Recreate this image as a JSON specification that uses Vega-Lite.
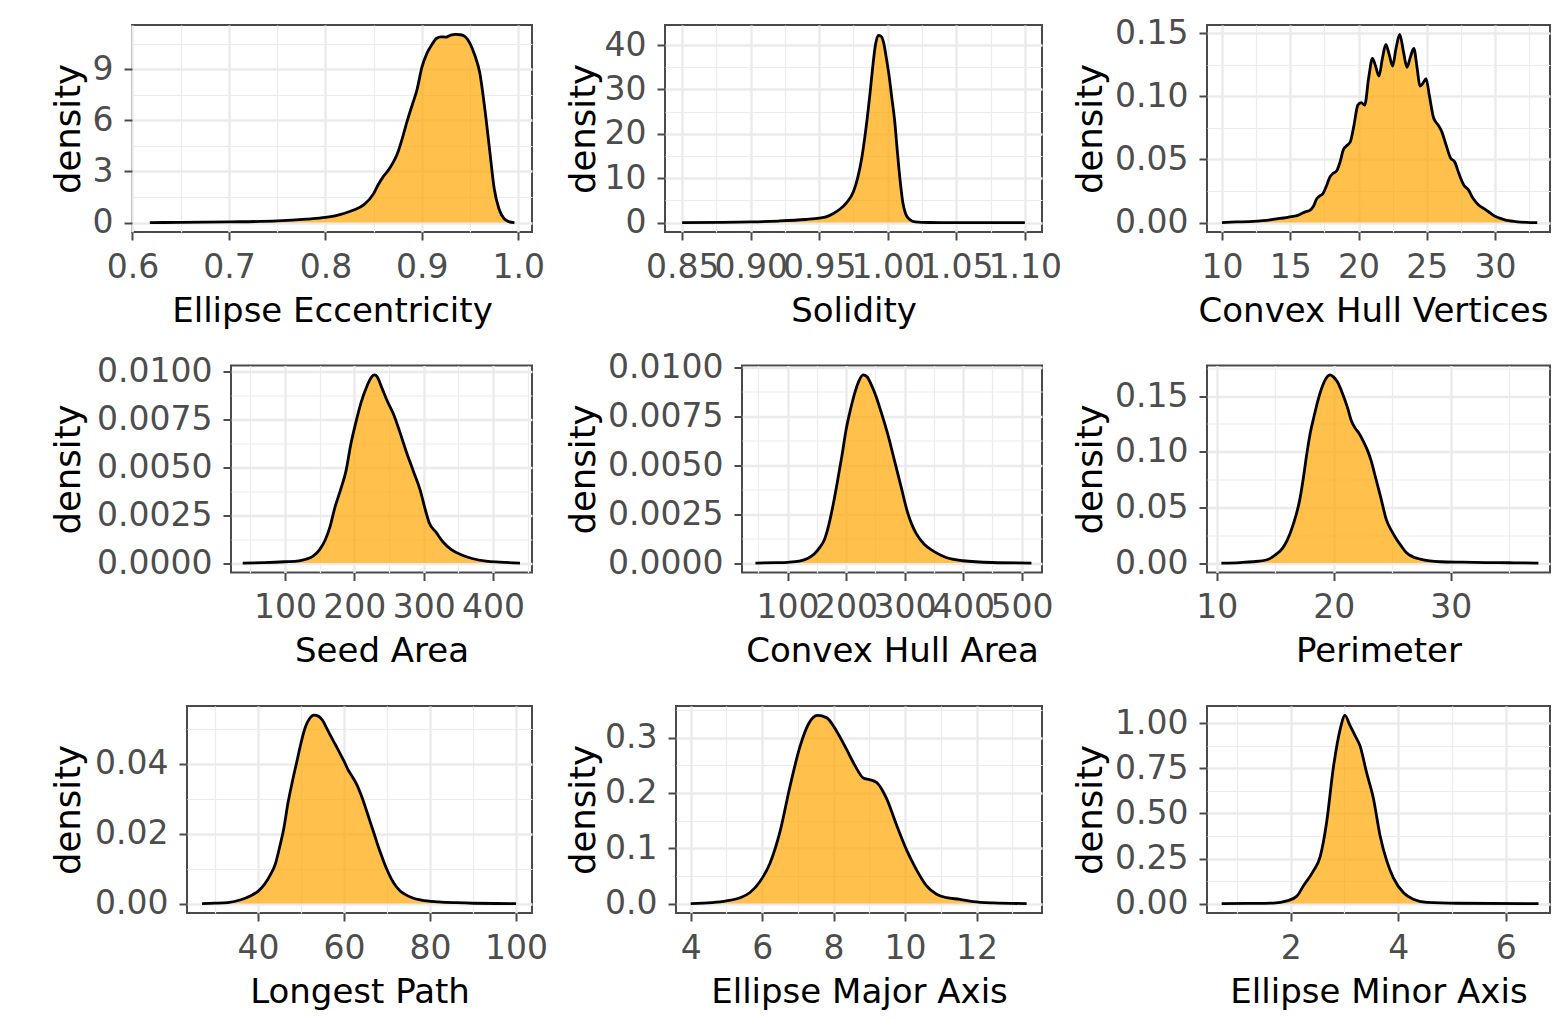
{
  "$schema": "https://vega.github.io/schema/vega-lite/v6.json",
  "background": "white",
  "padding": {"top": 1, "left": 0, "right": 0, "bottom": 0},
  "datasets": {
    "p1": [{"x":0.618,"d":0},{"x":0.65,"d":0.01},{"x":0.7,"d":0.04},{"x":0.75,"d":0.1},{"x":0.78,"d":0.2},{"x":0.8,"d":0.3},{"x":0.81,"d":0.4},{"x":0.82,"d":0.55},{"x":0.83,"d":0.75},{"x":0.84,"d":1.05},{"x":0.85,"d":1.7},{"x":0.855,"d":2.25},{"x":0.86,"d":2.7},{"x":0.865,"d":3.05},{"x":0.87,"d":3.5},{"x":0.875,"d":4.1},{"x":0.88,"d":5.0},{"x":0.885,"d":6.0},{"x":0.89,"d":6.9},{"x":0.895,"d":7.8},{"x":0.9,"d":9.1},{"x":0.905,"d":9.9},{"x":0.91,"d":10.4},{"x":0.915,"d":10.8},{"x":0.92,"d":10.9},{"x":0.925,"d":10.88},{"x":0.93,"d":11.0},{"x":0.935,"d":11.04},{"x":0.94,"d":11.02},{"x":0.945,"d":10.9},{"x":0.95,"d":10.5},{"x":0.955,"d":9.8},{"x":0.96,"d":8.8},{"x":0.965,"d":6.8},{"x":0.97,"d":4.4},{"x":0.975,"d":2.0},{"x":0.98,"d":0.8},{"x":0.985,"d":0.25},{"x":0.99,"d":0.06},{"x":0.996,"d":0}],
    "p2": [{"x":0.85,"d":0},{"x":0.9,"d":0.15},{"x":0.92,"d":0.35},{"x":0.94,"d":0.7},{"x":0.95,"d":1.0},{"x":0.955,"d":1.3},{"x":0.96,"d":2.0},{"x":0.965,"d":3.0},{"x":0.97,"d":4.5},{"x":0.975,"d":7.0},{"x":0.978,"d":10.0},{"x":0.981,"d":14.5},{"x":0.984,"d":21},{"x":0.987,"d":29},{"x":0.989,"d":35},{"x":0.991,"d":40},{"x":0.993,"d":42.2},{"x":0.995,"d":42},{"x":0.997,"d":40.5},{"x":0.999,"d":37},{"x":1.001,"d":33},{"x":1.003,"d":28},{"x":1.005,"d":23},{"x":1.007,"d":16},{"x":1.009,"d":9.5},{"x":1.011,"d":4.5},{"x":1.013,"d":2.0},{"x":1.016,"d":0.7},{"x":1.02,"d":0.15},{"x":1.03,"d":0.02},{"x":1.05,"d":0},{"x":1.1,"d":0}],
    "p3": [{"x":10,"d":0},{"x":11,"d":0.0005},{"x":12,"d":0.0008},{"x":13,"d":0.0015},{"x":14,"d":0.003},{"x":14.7,"d":0.004},{"x":15.2,"d":0.005},{"x":15.5,"d":0.0055},{"x":15.8,"d":0.007},{"x":16.1,"d":0.0085},{"x":16.4,"d":0.0095},{"x":16.7,"d":0.013},{"x":16.95,"d":0.019},{"x":17.15,"d":0.021},{"x":17.4,"d":0.023},{"x":17.65,"d":0.029},{"x":17.9,"d":0.036},{"x":18.15,"d":0.039},{"x":18.4,"d":0.041},{"x":18.65,"d":0.048},{"x":18.9,"d":0.058},{"x":19.15,"d":0.061},{"x":19.4,"d":0.064},{"x":19.65,"d":0.076},{"x":19.95,"d":0.093},{"x":20.2,"d":0.095},{"x":20.45,"d":0.093},{"x":20.75,"d":0.115},{"x":21.02,"d":0.13},{"x":21.25,"d":0.124},{"x":21.5,"d":0.116},{"x":21.75,"d":0.13},{"x":22.0,"d":0.141},{"x":22.25,"d":0.133},{"x":22.5,"d":0.124},{"x":22.75,"d":0.138},{"x":23.02,"d":0.149},{"x":23.3,"d":0.135},{"x":23.55,"d":0.123},{"x":23.8,"d":0.131},{"x":24.05,"d":0.138},{"x":24.3,"d":0.122},{"x":24.5,"d":0.108},{"x":24.7,"d":0.11},{"x":24.95,"d":0.114},{"x":25.2,"d":0.1},{"x":25.5,"d":0.083},{"x":25.85,"d":0.077},{"x":26.1,"d":0.072},{"x":26.4,"d":0.062},{"x":26.75,"d":0.051},{"x":27.05,"d":0.048},{"x":27.35,"d":0.039},{"x":27.7,"d":0.03},{"x":28.05,"d":0.026},{"x":28.4,"d":0.019},{"x":28.8,"d":0.014},{"x":29.2,"d":0.011},{"x":29.6,"d":0.008},{"x":30.0,"d":0.005},{"x":30.5,"d":0.003},{"x":31.0,"d":0.0015},{"x":31.5,"d":0.0008},{"x":32.3,"d":0.0002},{"x":33.1,"d":0}],
    "p4": [{"x":39,"d":0},{"x":70,"d":0.00002},{"x":100,"d":0.00007},{"x":120,"d":0.00012},{"x":130,"d":0.0002},{"x":140,"d":0.00035},{"x":150,"d":0.0007},{"x":158,"d":0.0012},{"x":165,"d":0.0019},{"x":172,"d":0.0029},{"x":180,"d":0.0038},{"x":188,"d":0.0048},{"x":195,"d":0.0062},{"x":202,"d":0.0073},{"x":210,"d":0.0084},{"x":218,"d":0.0092},{"x":225,"d":0.0097},{"x":229,"d":0.0098},{"x":233,"d":0.0097},{"x":240,"d":0.0091},{"x":248,"d":0.0084},{"x":256,"d":0.0078},{"x":265,"d":0.0069},{"x":275,"d":0.0058},{"x":285,"d":0.0048},{"x":295,"d":0.0038},{"x":303,"d":0.0027},{"x":308,"d":0.0021},{"x":318,"d":0.0016},{"x":328,"d":0.0011},{"x":340,"d":0.0007},{"x":355,"d":0.00042},{"x":370,"d":0.00024},{"x":390,"d":0.0001},{"x":410,"d":0.00005},{"x":439,"d":0}],
    "p5": [{"x":45,"d":0},{"x":80,"d":0.00002},{"x":100,"d":0.00004},{"x":120,"d":0.0001},{"x":135,"d":0.00025},{"x":145,"d":0.00045},{"x":155,"d":0.0008},{"x":163,"d":0.0012},{"x":170,"d":0.0019},{"x":178,"d":0.003},{"x":186,"d":0.0043},{"x":193,"d":0.0055},{"x":200,"d":0.0068},{"x":208,"d":0.0079},{"x":215,"d":0.0087},{"x":222,"d":0.0093},{"x":229,"d":0.0096},{"x":236,"d":0.0095},{"x":243,"d":0.0091},{"x":250,"d":0.0086},{"x":260,"d":0.0077},{"x":271,"d":0.0066},{"x":283,"d":0.0052},{"x":294,"d":0.0039},{"x":305,"d":0.0026},{"x":312,"d":0.002},{"x":320,"d":0.0015},{"x":334,"d":0.00095},{"x":350,"d":0.0006},{"x":370,"d":0.0003},{"x":400,"d":0.00012},{"x":450,"d":0.00003},{"x":517,"d":0}],
    "p6": [{"x":10.4,"d":0},{"x":12,"d":0.0005},{"x":13.1,"d":0.0012},{"x":14.3,"d":0.003},{"x":15.1,"d":0.008},{"x":15.6,"d":0.013},{"x":16,"d":0.02},{"x":16.55,"d":0.035},{"x":17.1,"d":0.057},{"x":17.4,"d":0.076},{"x":17.7,"d":0.098},{"x":18,"d":0.117},{"x":18.3,"d":0.131},{"x":18.65,"d":0.146},{"x":19,"d":0.158},{"x":19.35,"d":0.166},{"x":19.7,"d":0.169},{"x":20.0,"d":0.167},{"x":20.3,"d":0.163},{"x":20.8,"d":0.151},{"x":21.2,"d":0.139},{"x":21.5,"d":0.128},{"x":21.85,"d":0.121},{"x":22.2,"d":0.116},{"x":22.55,"d":0.109},{"x":22.9,"d":0.101},{"x":23.2,"d":0.092},{"x":23.5,"d":0.08},{"x":24.0,"d":0.06},{"x":24.5,"d":0.039},{"x":25,"d":0.028},{"x":25.4,"d":0.021},{"x":25.8,"d":0.015},{"x":26.2,"d":0.0095},{"x":26.8,"d":0.0055},{"x":27.4,"d":0.0036},{"x":28.2,"d":0.002},{"x":29.1,"d":0.0012},{"x":31,"d":0.0008},{"x":33,"d":0.0005},{"x":35,"d":0.0003},{"x":37.5,"d":0}],
    "p7": [{"x":27,"d":0},{"x":30,"d":0.0001},{"x":33,"d":0.0003},{"x":36,"d":0.0011},{"x":38.2,"d":0.0022},{"x":40,"d":0.0035},{"x":41.5,"d":0.0055},{"x":43,"d":0.0085},{"x":44,"d":0.0112},{"x":45,"d":0.016},{"x":46,"d":0.0215},{"x":47,"d":0.029},{"x":48,"d":0.035},{"x":49,"d":0.0405},{"x":50,"d":0.046},{"x":51,"d":0.0505},{"x":52,"d":0.053},{"x":53,"d":0.054},{"x":54,"d":0.0537},{"x":55,"d":0.0525},{"x":56,"d":0.0502},{"x":57,"d":0.0478},{"x":58,"d":0.0455},{"x":59,"d":0.0432},{"x":60,"d":0.0408},{"x":61,"d":0.0382},{"x":62,"d":0.0362},{"x":63,"d":0.034},{"x":64,"d":0.031},{"x":65,"d":0.0275},{"x":66,"d":0.0237},{"x":67,"d":0.02},{"x":68,"d":0.0162},{"x":69,"d":0.0128},{"x":70,"d":0.0097},{"x":71,"d":0.0071},{"x":72,"d":0.0051},{"x":73,"d":0.0037},{"x":74,"d":0.0028},{"x":76,"d":0.0016},{"x":78,"d":0.001},{"x":82,"d":0.0005},{"x":86,"d":0.00025},{"x":90,"d":0.0001},{"x":100,"d":0}],
    "p8": [{"x":4,"d":0},{"x":4.6,"d":0.0018},{"x":5.0,"d":0.005},{"x":5.4,"d":0.011},{"x":5.66,"d":0.02},{"x":5.94,"d":0.04},{"x":6.22,"d":0.073},{"x":6.5,"d":0.13},{"x":6.78,"d":0.212},{"x":7.06,"d":0.284},{"x":7.3,"d":0.325},{"x":7.55,"d":0.34},{"x":7.8,"d":0.336},{"x":8.08,"d":0.312},{"x":8.36,"d":0.279},{"x":8.6,"d":0.249},{"x":8.83,"d":0.227},{"x":9.0,"d":0.224},{"x":9.2,"d":0.219},{"x":9.48,"d":0.19},{"x":9.76,"d":0.142},{"x":10.04,"d":0.097},{"x":10.32,"d":0.061},{"x":10.6,"d":0.032},{"x":10.88,"d":0.017},{"x":11.16,"d":0.0107},{"x":11.53,"d":0.0078},{"x":11.9,"d":0.0036},{"x":12.47,"d":0.0012},{"x":13.4,"d":0}],
    "p9": [{"x":0.716,"d":0},{"x":1.2,"d":0.001},{"x":1.68,"d":0.003},{"x":1.93,"d":0.015},{"x":2.11,"d":0.04},{"x":2.24,"d":0.1},{"x":2.42,"d":0.18},{"x":2.55,"d":0.262},{"x":2.67,"d":0.454},{"x":2.79,"d":0.747},{"x":2.92,"d":0.967},{"x":3.01,"d":1.044},{"x":3.1,"d":0.99},{"x":3.2,"d":0.93},{"x":3.29,"d":0.875},{"x":3.41,"d":0.729},{"x":3.54,"d":0.582},{"x":3.66,"d":0.381},{"x":3.79,"d":0.234},{"x":3.91,"d":0.143},{"x":4.1,"d":0.06},{"x":4.28,"d":0.024},{"x":4.53,"d":0.007},{"x":5.09,"d":0.002},{"x":6.61,"d":0}]
  },
  "spacing": 12.5,
  "vconcat": [
    {"spacing": 0, "bounds": "flush", "hconcat": [
      {"width": 132, "height": 207, "title": {"text": " ", "fontSize": 20, "offset": 4}, "data": {"values": []}, "mark": "rect", "encoding": {}, "view": {"stroke": null}},
      {"width": 400, "height": 207, "data": {"name": "p1"},
       "mark": {"type": "area", "interpolate": "monotone", "color": "#FFA500", "fillOpacity": 0.7, "line": {"color": "black", "strokeWidth": 2.8}},
       "encoding": {
         "x": {"field": "x", "type": "quantitative", "scale": {"domain": [0.5995, 1.0142], "nice": false, "zero": false},
               "axis": {"title": "Ellipse Eccentricity", "titleY": 62, "values": [0.6,0.65,0.7,0.75,0.8,0.85,0.9,0.95,1.0], "format": ".1f",
                        "labelExpr": "indexof([0.6,0.7,0.8,0.9,1.0], datum.value) >= 0 ? datum.label : ''",
                        "tickOpacity": {"condition": {"test": "indexof([0.6,0.7,0.8,0.9,1.0], datum.value) >= 0", "value": 1}, "value": 0},
                        "gridWidth": {"condition": {"test": "indexof([0.6,0.7,0.8,0.9,1.0], datum.value) >= 0", "value": 2.5}, "value": 1.2}}},
         "y": {"field": "d", "type": "quantitative", "scale": {"domain": [-0.552, 11.592], "nice": false, "zero": false},
               "axis": {"title": "density", "titleX": -46, "values": [0,1.5,3,4.5,6,7.5,9,10.5], "format": "d",
                        "labelExpr": "indexof([0,3,6,9], datum.value) >= 0 ? datum.label : ''",
                        "tickOpacity": {"condition": {"test": "indexof([0,3,6,9], datum.value) >= 0", "value": 1}, "value": 0},
                        "gridWidth": {"condition": {"test": "indexof([0,3,6,9], datum.value) >= 0", "value": 2.5}, "value": 1.2}}},
         "y2": {"datum": 0}
       }},
      {"width": 133, "height": 207, "data": {"values": []}, "mark": "rect", "encoding": {}, "view": {"stroke": null}},
      {"width": 377, "height": 207, "data": {"name": "p2"},
       "mark": {"type": "area", "interpolate": "monotone", "color": "#FFA500", "fillOpacity": 0.7, "line": {"color": "black", "strokeWidth": 2.8}},
       "encoding": {
         "x": {"field": "x", "type": "quantitative", "scale": {"domain": [0.8375, 1.1125], "nice": false, "zero": false},
               "axis": {"title": "Solidity", "titleY": 62, "values": [0.85,0.875,0.9,0.925,0.95,0.975,1.0,1.025,1.05,1.075,1.1], "format": ".2f",
                        "labelExpr": "indexof([0.85,0.9,0.95,1.0,1.05,1.1], datum.value) >= 0 ? datum.label : ''",
                        "tickOpacity": {"condition": {"test": "indexof([0.85,0.9,0.95,1.0,1.05,1.1], datum.value) >= 0", "value": 1}, "value": 0},
                        "gridWidth": {"condition": {"test": "indexof([0.85,0.9,0.95,1.0,1.05,1.1], datum.value) >= 0", "value": 2.5}, "value": 1.2}}},
         "y": {"field": "d", "type": "quantitative", "scale": {"domain": [-2.12, 44.52], "nice": false, "zero": false},
               "axis": {"title": "density", "titleX": -64, "values": [0,5,10,15,20,25,30,35,40], "format": "d",
                        "labelExpr": "indexof([0,10,20,30,40], datum.value) >= 0 ? datum.label : ''",
                        "tickOpacity": {"condition": {"test": "indexof([0,10,20,30,40], datum.value) >= 0", "value": 1}, "value": 0},
                        "gridWidth": {"condition": {"test": "indexof([0,10,20,30,40], datum.value) >= 0", "value": 2.5}, "value": 1.2}}},
         "y2": {"datum": 0}
       }},
      {"width": 165, "height": 207, "data": {"values": []}, "mark": "rect", "encoding": {}, "view": {"stroke": null}},
      {"width": 343, "height": 207, "data": {"name": "p3"},
       "mark": {"type": "area", "interpolate": "monotone", "color": "#FFA500", "fillOpacity": 0.7, "line": {"color": "black", "strokeWidth": 2.8}},
       "encoding": {
         "x": {"field": "x", "type": "quantitative", "scale": {"domain": [8.9, 34.03], "nice": false, "zero": false},
               "axis": {"title": "Convex Hull Vertices", "titleY": 62, "titleX": 166, "values": [10,12.5,15,17.5,20,22.5,25,27.5,30,32.5], "format": "d",
                        "labelExpr": "indexof([10,15,20,25,30], datum.value) >= 0 ? datum.label : ''",
                        "tickOpacity": {"condition": {"test": "indexof([10,15,20,25,30], datum.value) >= 0", "value": 1}, "value": 0},
                        "gridWidth": {"condition": {"test": "indexof([10,15,20,25,30], datum.value) >= 0", "value": 2.5}, "value": 1.2}}},
         "y": {"field": "d", "type": "quantitative", "scale": {"domain": [-0.00745, 0.15645], "nice": false, "zero": false},
               "axis": {"title": "density", "titleX": -99, "values": [0,0.025,0.05,0.075,0.1,0.125,0.15], "format": ".2f",
                        "labelExpr": "indexof([0,0.05,0.1,0.15], datum.value) >= 0 ? datum.label : ''",
                        "tickOpacity": {"condition": {"test": "indexof([0,0.05,0.1,0.15], datum.value) >= 0", "value": 1}, "value": 0},
                        "gridWidth": {"condition": {"test": "indexof([0,0.05,0.1,0.15], datum.value) >= 0", "value": 2.5}, "value": 1.2}}},
         "y2": {"datum": 0}
       }}
    ]},
    {"spacing": 0, "bounds": "flush", "hconcat": [
      {"width": 231, "height": 207, "title": {"text": " ", "fontSize": 20, "offset": 4}, "data": {"values": []}, "mark": "rect", "encoding": {}, "view": {"stroke": null}},
      {"width": 301, "height": 207, "data": {"name": "p4"},
       "mark": {"type": "area", "interpolate": "monotone", "color": "#FFA500", "fillOpacity": 0.7, "line": {"color": "black", "strokeWidth": 2.8}},
       "encoding": {
         "x": {"field": "x", "type": "quantitative", "scale": {"domain": [22.1, 456.3], "nice": false, "zero": false},
               "axis": {"title": "Seed Area", "titleY": 62, "values": [50,100,150,200,250,300,350,400,450], "format": "d",
                        "labelExpr": "indexof([100,200,300,400], datum.value) >= 0 ? datum.label : ''",
                        "tickOpacity": {"condition": {"test": "indexof([100,200,300,400], datum.value) >= 0", "value": 1}, "value": 0},
                        "gridWidth": {"condition": {"test": "indexof([100,200,300,400], datum.value) >= 0", "value": 2.5}, "value": 1.2}}},
         "y": {"field": "d", "type": "quantitative", "scale": {"domain": [-0.00049, 0.01029], "nice": false, "zero": false},
               "axis": {"title": "density", "titleX": -145, "values": [0,0.00125,0.0025,0.00375,0.005,0.00625,0.0075,0.00875,0.01], "format": ".4f",
                        "labelExpr": "indexof([0,0.0025,0.005,0.0075,0.01], datum.value) >= 0 ? datum.label : ''",
                        "tickOpacity": {"condition": {"test": "indexof([0,0.0025,0.005,0.0075,0.01], datum.value) >= 0", "value": 1}, "value": 0},
                        "gridWidth": {"condition": {"test": "indexof([0,0.0025,0.005,0.0075,0.01], datum.value) >= 0", "value": 2.5}, "value": 1.2}}},
         "y2": {"datum": 0}
       }},
      {"width": 210, "height": 207, "data": {"values": []}, "mark": "rect", "encoding": {}, "view": {"stroke": null}},
      {"width": 300, "height": 207, "data": {"name": "p5"},
       "mark": {"type": "area", "interpolate": "monotone", "color": "#FFA500", "fillOpacity": 0.7, "line": {"color": "black", "strokeWidth": 2.8}},
       "encoding": {
         "x": {"field": "x", "type": "quantitative", "scale": {"domain": [22, 535], "nice": false, "zero": false},
               "axis": {"title": "Convex Hull Area", "titleY": 62, "values": [50,100,150,200,250,300,350,400,450,500], "format": "d",
                        "labelExpr": "indexof([100,200,300,400,500], datum.value) >= 0 ? datum.label : ''",
                        "tickOpacity": {"condition": {"test": "indexof([100,200,300,400,500], datum.value) >= 0", "value": 1}, "value": 0},
                        "gridWidth": {"condition": {"test": "indexof([100,200,300,400,500], datum.value) >= 0", "value": 2.5}, "value": 1.2}}},
         "y": {"field": "d", "type": "quantitative", "scale": {"domain": [-0.00048, 0.01008], "nice": false, "zero": false},
               "axis": {"title": "density", "titleX": -141, "values": [0,0.00125,0.0025,0.00375,0.005,0.00625,0.0075,0.00875,0.01], "format": ".4f",
                        "labelExpr": "indexof([0,0.0025,0.005,0.0075,0.01], datum.value) >= 0 ? datum.label : ''",
                        "tickOpacity": {"condition": {"test": "indexof([0,0.0025,0.005,0.0075,0.01], datum.value) >= 0", "value": 1}, "value": 0},
                        "gridWidth": {"condition": {"test": "indexof([0,0.0025,0.005,0.0075,0.01], datum.value) >= 0", "value": 2.5}, "value": 1.2}}},
         "y2": {"datum": 0}
       }},
      {"width": 165, "height": 207, "data": {"values": []}, "mark": "rect", "encoding": {}, "view": {"stroke": null}},
      {"width": 343, "height": 207, "data": {"name": "p6"},
       "mark": {"type": "area", "interpolate": "monotone", "color": "#FFA500", "fillOpacity": 0.7, "line": {"color": "black", "strokeWidth": 2.8}},
       "encoding": {
         "x": {"field": "x", "type": "quantitative", "scale": {"domain": [9.17, 38.49], "nice": false, "zero": false},
               "axis": {"title": "Perimeter", "titleY": 62, "values": [10,15,20,25,30,35], "format": "d",
                        "labelExpr": "indexof([10,20,30], datum.value) >= 0 ? datum.label : ''",
                        "tickOpacity": {"condition": {"test": "indexof([10,20,30], datum.value) >= 0", "value": 1}, "value": 0},
                        "gridWidth": {"condition": {"test": "indexof([10,20,30], datum.value) >= 0", "value": 2.5}, "value": 1.2}}},
         "y": {"field": "d", "type": "quantitative", "scale": {"domain": [-0.00845, 0.17745], "nice": false, "zero": false},
               "axis": {"title": "density", "titleX": -99, "values": [0,0.025,0.05,0.075,0.1,0.125,0.15,0.175], "format": ".2f",
                        "labelExpr": "indexof([0,0.05,0.1,0.15], datum.value) >= 0 ? datum.label : ''",
                        "tickOpacity": {"condition": {"test": "indexof([0,0.05,0.1,0.15], datum.value) >= 0", "value": 1}, "value": 0},
                        "gridWidth": {"condition": {"test": "indexof([0,0.05,0.1,0.15], datum.value) >= 0", "value": 2.5}, "value": 1.2}}},
         "y2": {"datum": 0}
       }}
    ]},
    {"spacing": 0, "bounds": "flush", "hconcat": [
      {"width": 187, "height": 207, "title": {"text": " ", "fontSize": 20, "offset": 4}, "data": {"values": []}, "mark": "rect", "encoding": {}, "view": {"stroke": null}},
      {"width": 345, "height": 207, "data": {"name": "p7"},
       "mark": {"type": "area", "interpolate": "monotone", "color": "#FFA500", "fillOpacity": 0.7, "line": {"color": "black", "strokeWidth": 2.8}},
       "encoding": {
         "x": {"field": "x", "type": "quantitative", "scale": {"domain": [23.5, 103.7], "nice": false, "zero": false},
               "axis": {"title": "Longest Path", "titleY": 62, "values": [30,40,50,60,70,80,90,100], "format": "d",
                        "labelExpr": "indexof([40,60,80,100], datum.value) >= 0 ? datum.label : ''",
                        "tickOpacity": {"condition": {"test": "indexof([40,60,80,100], datum.value) >= 0", "value": 1}, "value": 0},
                        "gridWidth": {"condition": {"test": "indexof([40,60,80,100], datum.value) >= 0", "value": 2.5}, "value": 1.2}}},
         "y": {"field": "d", "type": "quantitative", "scale": {"domain": [-0.0027, 0.0566], "nice": false, "zero": false},
               "axis": {"title": "density", "titleX": -101, "values": [0,0.01,0.02,0.03,0.04,0.05], "format": ".2f",
                        "labelExpr": "indexof([0,0.02,0.04], datum.value) >= 0 ? datum.label : ''",
                        "tickOpacity": {"condition": {"test": "indexof([0,0.02,0.04], datum.value) >= 0", "value": 1}, "value": 0},
                        "gridWidth": {"condition": {"test": "indexof([0,0.02,0.04], datum.value) >= 0", "value": 2.5}, "value": 1.2}}},
         "y2": {"datum": 0}
       }},
      {"width": 144, "height": 207, "data": {"values": []}, "mark": "rect", "encoding": {}, "view": {"stroke": null}},
      {"width": 366, "height": 207, "data": {"name": "p8"},
       "mark": {"type": "area", "interpolate": "monotone", "color": "#FFA500", "fillOpacity": 0.7, "line": {"color": "black", "strokeWidth": 2.8}},
       "encoding": {
         "x": {"field": "x", "type": "quantitative", "scale": {"domain": [3.59, 13.83], "nice": false, "zero": false},
               "axis": {"title": "Ellipse Major Axis", "titleY": 62, "values": [4,5,6,7,8,9,10,11,12,13], "format": "d",
                        "labelExpr": "indexof([4,6,8,10,12], datum.value) >= 0 ? datum.label : ''",
                        "tickOpacity": {"condition": {"test": "indexof([4,6,8,10,12], datum.value) >= 0", "value": 1}, "value": 0},
                        "gridWidth": {"condition": {"test": "indexof([4,6,8,10,12], datum.value) >= 0", "value": 2.5}, "value": 1.2}}},
         "y": {"field": "d", "type": "quantitative", "scale": {"domain": [-0.017, 0.357], "nice": false, "zero": false},
               "axis": {"title": "density", "titleX": -75, "values": [0,0.05,0.1,0.15,0.2,0.25,0.3,0.35], "format": ".1f",
                        "labelExpr": "indexof([0,0.1,0.2,0.3], datum.value) >= 0 ? datum.label : ''",
                        "tickOpacity": {"condition": {"test": "indexof([0,0.1,0.2,0.3], datum.value) >= 0", "value": 1}, "value": 0},
                        "gridWidth": {"condition": {"test": "indexof([0,0.1,0.2,0.3], datum.value) >= 0", "value": 2.5}, "value": 1.2}}},
         "y2": {"datum": 0}
       }},
      {"width": 165, "height": 207, "data": {"values": []}, "mark": "rect", "encoding": {}, "view": {"stroke": null}},
      {"width": 343, "height": 207, "data": {"name": "p9"},
       "mark": {"type": "area", "interpolate": "monotone", "color": "#FFA500", "fillOpacity": 0.7, "line": {"color": "black", "strokeWidth": 2.8}},
       "encoding": {
         "x": {"field": "x", "type": "quantitative", "scale": {"domain": [0.443, 6.824], "nice": false, "zero": false},
               "axis": {"title": "Ellipse Minor Axis", "titleY": 62, "values": [1,2,3,4,5,6], "format": "d",
                        "labelExpr": "indexof([2,4,6], datum.value) >= 0 ? datum.label : ''",
                        "tickOpacity": {"condition": {"test": "indexof([2,4,6], datum.value) >= 0", "value": 1}, "value": 0},
                        "gridWidth": {"condition": {"test": "indexof([2,4,6], datum.value) >= 0", "value": 2.5}, "value": 1.2}}},
         "y": {"field": "d", "type": "quantitative", "scale": {"domain": [-0.0522, 1.0962], "nice": false, "zero": false},
               "axis": {"title": "density", "titleX": -99, "values": [0,0.125,0.25,0.375,0.5,0.625,0.75,0.875,1], "format": ".2f",
                        "labelExpr": "indexof([0,0.25,0.5,0.75,1], datum.value) >= 0 ? datum.label : ''",
                        "tickOpacity": {"condition": {"test": "indexof([0,0.25,0.5,0.75,1], datum.value) >= 0", "value": 1}, "value": 0},
                        "gridWidth": {"condition": {"test": "indexof([0,0.25,0.5,0.75,1], datum.value) >= 0", "value": 2.5}, "value": 1.2}}},
         "y2": {"datum": 0}
       }}
    ]}
  ],
  "config": {
    "font": "DejaVu Sans",
    "view": {"stroke": "#4a4a4a", "strokeWidth": 2},
    "axis": {
      "labelFont": "DejaVu Sans", "labelFontSize": 33, "labelColor": "#4D4D4D",
      "titleFont": "DejaVu Sans", "titleFontSize": 34, "titleFontWeight": "normal", "titleColor": "#000000",
      "tickColor": "#4a4a4a", "tickWidth": 2, "tickSize": 8, "labelPadding": 11,
      "domain": false, "grid": true, "gridColor": "#EBEBEB",
      "labelOverlap": false, "labelFlush": false, "labelBound": false
    },
    "axisY": {"titleFontSize": 35.5}
  }
}
